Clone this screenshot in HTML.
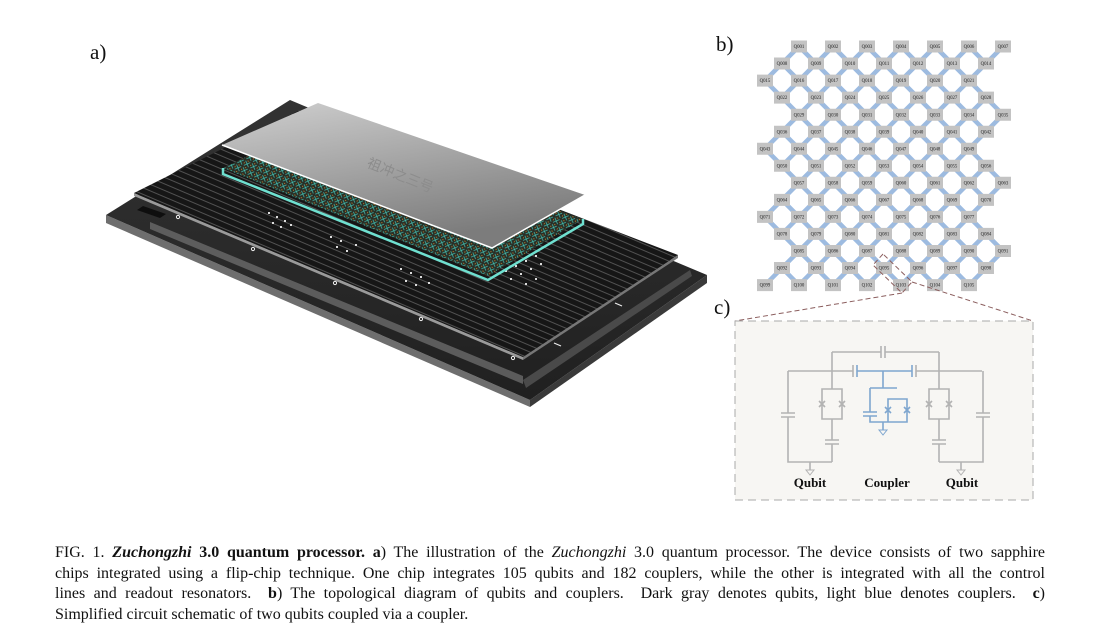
<!DOCTYPE html>
<html><head><meta charset="utf-8"><style>
html,body{margin:0;padding:0;background:#fff;}
body{width:1116px;height:642px;position:relative;overflow:hidden;font-family:"Liberation Serif",serif;}
.lbl{position:absolute;font-size:21px;color:#111;}
.cap{position:absolute;left:55px;width:990px;font-size:16px;line-height:20.5px;color:#111;}
.cap div{text-align:justify;text-align-last:justify;white-space:nowrap;}
.cap div.last{text-align-last:left;}
</style></head><body>
<svg width="1116" height="642" style="position:absolute;left:0;top:0" xmlns="http://www.w3.org/2000/svg">
<defs>
<pattern id="tr" width="6" height="6" patternUnits="userSpaceOnUse" patternTransform="rotate(23)">
<rect width="6" height="6" fill="#161616"/><line x1="0" y1="3" x2="6" y2="3" stroke="#9a9a9a" stroke-width="0.45"/>
</pattern>
<pattern id="tl" width="7" height="7" patternUnits="userSpaceOnUse" patternTransform="rotate(22)">
<rect width="7" height="7" fill="#2a2e26"/><path d="M1 1L6 6M6 1L1 6" stroke="#45c8b8" stroke-width="0.7"/><circle cx="3.5" cy="0.2" r="0.7" fill="#c98a2e"/><circle cx="0.2" cy="3.5" r="0.7" fill="#c98a2e"/>
</pattern>
<linearGradient id="gch" x1="0" y1="0" x2="0.4" y2="1"><stop offset="0" stop-color="#cfcfcf"/><stop offset="1" stop-color="#7c7c7c"/></linearGradient>
<linearGradient id="gbase" x1="0" y1="0" x2="0" y2="1"><stop offset="0" stop-color="#333"/><stop offset="1" stop-color="#202020"/></linearGradient>
</defs>
<!-- base plate -->
<polygon points="106,215 530,400 530,407 106,223" fill="#6e6e6e"/>
<polygon points="530,400 707,275 707,283 530,407" fill="#3a3a3a"/>
<polygon points="106,215 290,100 707,275 530,400" fill="url(#gbase)"/>
<polygon points="150,222 523,376 523,384 150,229" fill="#6a6a6a" opacity="0.8"/>
<polygon points="523,380 690,270 692,276 526,388" fill="#4a4a4a"/>
<polygon points="137,210 160,218 166,214 143,206" fill="#0e0e0e"/>
<!-- board -->
<polygon points="134,193 523,357 523,360 134,196" fill="#9a9a9a"/>
<polygon points="523,357 678,255 678,258 523,360" fill="#777"/>
<polygon points="134,193 300,110 678,255 523,357" fill="url(#tr)"/>
<g fill="none" stroke="#eee" stroke-width="1">
<circle cx="178" cy="217" r="1.6"/><circle cx="253" cy="249" r="1.6"/><circle cx="335" cy="283" r="1.6"/><circle cx="421" cy="319" r="1.6"/><circle cx="513" cy="358" r="1.6"/>
</g>
<g stroke="#eee" stroke-width="1.2"><line x1="615" y1="303" x2="622" y2="306"/><line x1="554" y1="343" x2="561" y2="346"/></g>
<g fill="#ddd">
<rect x="268" y="212" width="2" height="2"/><rect x="276" y="216" width="2" height="2"/><rect x="284" y="220" width="2" height="2"/><rect x="272" y="222" width="2" height="2"/><rect x="280" y="226" width="2" height="2"/><rect x="290" y="224" width="2" height="2"/>
<rect x="330" y="236" width="2" height="2"/><rect x="340" y="240" width="2" height="2"/><rect x="336" y="246" width="2" height="2"/><rect x="346" y="250" width="2" height="2"/><rect x="355" y="244" width="2" height="2"/>
<rect x="400" y="268" width="2" height="2"/><rect x="410" y="272" width="2" height="2"/><rect x="420" y="276" width="2" height="2"/><rect x="405" y="280" width="2" height="2"/><rect x="415" y="284" width="2" height="2"/><rect x="428" y="282" width="2" height="2"/>
<rect x="505" y="270" width="2" height="2"/><rect x="515" y="265" width="2" height="2"/><rect x="525" y="260" width="2" height="2"/><rect x="535" y="255" width="2" height="2"/><rect x="510" y="278" width="2" height="2"/><rect x="520" y="273" width="2" height="2"/><rect x="530" y="268" width="2" height="2"/><rect x="540" y="263" width="2" height="2"/><rect x="525" y="283" width="2" height="2"/><rect x="535" y="278" width="2" height="2"/>
</g>
<!-- teal chip -->
<polygon points="223,168 318,122 583,219 488,276" fill="url(#tl)"/>
<polyline points="223,168 223,174 488,280 583,224 583,219" fill="none" stroke="#6fe0d0" stroke-width="2.5"/>
<!-- gray chip -->
<polygon points="222,145 318,103 585,195 492,248" fill="url(#gch)"/>
<polyline points="222,145 492,248 585,195" fill="none" stroke="#fff" stroke-width="1.5"/>
<text x="400" y="180" font-family="Noto Sans CJK SC,sans-serif" font-size="14" fill="#8c8c8c" transform="rotate(22 400 176)" text-anchor="middle">祖冲之三号</text>
<!-- lattice edges -->
<g transform="translate(765,46.5) scale(17,17.04)">
<path fill="none" stroke="#9dbbe0" stroke-width="4.5" vector-effect="non-scaling-stroke" d="M12 0L13 1M10 0L14 4M8 0L13 5M6 0L14 8M4 0L13 9M2 0L14 12M1 1L13 13M0 2L12 14M1 5L10 14M0 6L8 14M1 9L6 14M0 10L4 14M1 13L2 14M2 0L0 2M4 0L1 3M6 0L0 6M8 0L1 7M10 0L0 10M12 0L1 11M14 0L0 14M13 3L2 14M14 4L4 14M13 7L6 14M14 8L8 14M13 11L10 14M14 12L12 14"/>
</g>
<g font-family="Liberation Serif,serif" font-size="4.8" fill="#222" text-anchor="middle">
<g transform="translate(799,46.5)"><line x1="-8" x2="212" stroke="#c3c3c3" stroke-width="12" stroke-dasharray="16 18"/><text y="1.6">Q001</text><text x="34" y="1.6">Q002</text><text x="68" y="1.6">Q003</text><text x="102" y="1.6">Q004</text><text x="136" y="1.6">Q005</text><text x="170" y="1.6">Q006</text><text x="204" y="1.6">Q007</text></g>
<g transform="translate(782,63.5)"><line x1="-8" x2="212" stroke="#c3c3c3" stroke-width="12" stroke-dasharray="16 18"/><text y="1.6">Q008</text><text x="34" y="1.6">Q009</text><text x="68" y="1.6">Q010</text><text x="102" y="1.6">Q011</text><text x="136" y="1.6">Q012</text><text x="170" y="1.6">Q013</text><text x="204" y="1.6">Q014</text></g>
<g transform="translate(765,80.6)"><line x1="-8" x2="212" stroke="#c3c3c3" stroke-width="12" stroke-dasharray="16 18"/><text y="1.6">Q015</text><text x="34" y="1.6">Q016</text><text x="68" y="1.6">Q017</text><text x="102" y="1.6">Q018</text><text x="136" y="1.6">Q019</text><text x="170" y="1.6">Q020</text><text x="204" y="1.6">Q021</text></g>
<g transform="translate(782,97.6)"><line x1="-8" x2="212" stroke="#c3c3c3" stroke-width="12" stroke-dasharray="16 18"/><text y="1.6">Q022</text><text x="34" y="1.6">Q023</text><text x="68" y="1.6">Q024</text><text x="102" y="1.6">Q025</text><text x="136" y="1.6">Q026</text><text x="170" y="1.6">Q027</text><text x="204" y="1.6">Q028</text></g>
<g transform="translate(799,114.7)"><line x1="-8" x2="212" stroke="#c3c3c3" stroke-width="12" stroke-dasharray="16 18"/><text y="1.6">Q029</text><text x="34" y="1.6">Q030</text><text x="68" y="1.6">Q031</text><text x="102" y="1.6">Q032</text><text x="136" y="1.6">Q033</text><text x="170" y="1.6">Q034</text><text x="204" y="1.6">Q035</text></g>
<g transform="translate(782,131.7)"><line x1="-8" x2="212" stroke="#c3c3c3" stroke-width="12" stroke-dasharray="16 18"/><text y="1.6">Q036</text><text x="34" y="1.6">Q037</text><text x="68" y="1.6">Q038</text><text x="102" y="1.6">Q039</text><text x="136" y="1.6">Q040</text><text x="170" y="1.6">Q041</text><text x="204" y="1.6">Q042</text></g>
<g transform="translate(765,148.7)"><line x1="-8" x2="212" stroke="#c3c3c3" stroke-width="12" stroke-dasharray="16 18"/><text y="1.6">Q043</text><text x="34" y="1.6">Q044</text><text x="68" y="1.6">Q045</text><text x="102" y="1.6">Q046</text><text x="136" y="1.6">Q047</text><text x="170" y="1.6">Q048</text><text x="204" y="1.6">Q049</text></g>
<g transform="translate(782,165.8)"><line x1="-8" x2="212" stroke="#c3c3c3" stroke-width="12" stroke-dasharray="16 18"/><text y="1.6">Q050</text><text x="34" y="1.6">Q051</text><text x="68" y="1.6">Q052</text><text x="102" y="1.6">Q053</text><text x="136" y="1.6">Q054</text><text x="170" y="1.6">Q055</text><text x="204" y="1.6">Q056</text></g>
<g transform="translate(799,182.8)"><line x1="-8" x2="212" stroke="#c3c3c3" stroke-width="12" stroke-dasharray="16 18"/><text y="1.6">Q057</text><text x="34" y="1.6">Q058</text><text x="68" y="1.6">Q059</text><text x="102" y="1.6">Q060</text><text x="136" y="1.6">Q061</text><text x="170" y="1.6">Q062</text><text x="204" y="1.6">Q063</text></g>
<g transform="translate(782,199.9)"><line x1="-8" x2="212" stroke="#c3c3c3" stroke-width="12" stroke-dasharray="16 18"/><text y="1.6">Q064</text><text x="34" y="1.6">Q065</text><text x="68" y="1.6">Q066</text><text x="102" y="1.6">Q067</text><text x="136" y="1.6">Q068</text><text x="170" y="1.6">Q069</text><text x="204" y="1.6">Q070</text></g>
<g transform="translate(765,216.9)"><line x1="-8" x2="212" stroke="#c3c3c3" stroke-width="12" stroke-dasharray="16 18"/><text y="1.6">Q071</text><text x="34" y="1.6">Q072</text><text x="68" y="1.6">Q073</text><text x="102" y="1.6">Q074</text><text x="136" y="1.6">Q075</text><text x="170" y="1.6">Q076</text><text x="204" y="1.6">Q077</text></g>
<g transform="translate(782,233.9)"><line x1="-8" x2="212" stroke="#c3c3c3" stroke-width="12" stroke-dasharray="16 18"/><text y="1.6">Q078</text><text x="34" y="1.6">Q079</text><text x="68" y="1.6">Q080</text><text x="102" y="1.6">Q081</text><text x="136" y="1.6">Q082</text><text x="170" y="1.6">Q083</text><text x="204" y="1.6">Q084</text></g>
<g transform="translate(799,251)"><line x1="-8" x2="212" stroke="#c3c3c3" stroke-width="12" stroke-dasharray="16 18"/><text y="1.6">Q085</text><text x="34" y="1.6">Q086</text><text x="68" y="1.6">Q087</text><text x="102" y="1.6">Q088</text><text x="136" y="1.6">Q089</text><text x="170" y="1.6">Q090</text><text x="204" y="1.6">Q091</text></g>
<g transform="translate(782,268)"><line x1="-8" x2="212" stroke="#c3c3c3" stroke-width="12" stroke-dasharray="16 18"/><text y="1.6">Q092</text><text x="34" y="1.6">Q093</text><text x="68" y="1.6">Q094</text><text x="102" y="1.6">Q095</text><text x="136" y="1.6">Q096</text><text x="170" y="1.6">Q097</text><text x="204" y="1.6">Q098</text></g>
<g transform="translate(765,285.1)"><line x1="-8" x2="212" stroke="#c3c3c3" stroke-width="12" stroke-dasharray="16 18"/><text y="1.6">Q099</text><text x="34" y="1.6">Q100</text><text x="68" y="1.6">Q101</text><text x="102" y="1.6">Q102</text><text x="136" y="1.6">Q103</text><text x="170" y="1.6">Q104</text><text x="204" y="1.6">Q105</text></g>
</g>
<!-- zoom box & lines -->
<g fill="none" stroke="#8b5e5e" stroke-width="1" stroke-dasharray="5 3">
<polygon points="883,254 873,265 902,293 912,282"/>
<line x1="902" y1="293" x2="735" y2="321"/>
<line x1="912" y1="282" x2="1033" y2="321"/>
</g>
<!-- c box -->
<rect x="735" y="321" width="298" height="179" fill="#f7f6f3" stroke="#aaa" stroke-width="1" stroke-dasharray="8 5"/>
<g fill="none" stroke="#b3b3b3" stroke-width="1.6">
<path d="M832 352H881M885 352H939M881 346V358M885 346V358"/>
<path d="M788 371H853M853 365V377M916 365V377M916 371H982"/>
<path d="M788 371V413M781 413H795M781 417H795M788 417V462H832"/>
<path d="M832 352V389M822 389H842V419H822ZM832 419V440M825 440H839M825 444H839M832 444V462"/>
<path d="M819 401L825 407M825 401L819 407M839 401L845 407M845 401L839 407"/>
<path d="M810 462V470"/>
<path d="M983 371V413M976 413H990M976 417H990M983 417V462H939"/>
<path d="M939 352V389M929 389H949V419H929ZM939 419V440M932 440H946M932 444H946M939 444V462"/>
<path d="M926 401L932 407M932 401L926 407M946 401L952 407M952 401L946 407"/>
<path d="M961 462V470"/>
</g>
<g fill="none" stroke="#b3b3b3" stroke-width="1"><path d="M806 470H814L810 475Z"/><path d="M957 470H965L961 475Z"/></g>
<g fill="none" stroke="#7fa6cf" stroke-width="1.6">
<path d="M857 365V377M912 365V377M857 371H912M883 371V388M870 388H897M870 388V412M870 416V422H907V399H888V422"/>
<path d="M863 412H877M863 416H877"/>
<path d="M885 407L891 413M891 407L885 413M904 407L910 413M910 407L904 413"/>
<path d="M883 422V430"/>
</g>
<path d="M879 430H887L883 435Z" fill="none" stroke="#7fa6cf" stroke-width="1"/>
<g font-family="Liberation Serif,serif" font-weight="bold" font-size="13" fill="#111" text-anchor="middle">
<text x="810" y="487">Qubit</text><text x="887" y="487">Coupler</text><text x="962" y="487">Qubit</text>
</g>
</svg>
<div class="lbl" style="left:90px;top:40px">a)</div>
<div class="lbl" style="left:716px;top:32px">b)</div>
<div class="lbl" style="left:714px;top:295px">c)</div>
<div class="cap" style="top:543px">
<div>FIG. 1. <b><i>Zuchongzhi</i> 3.0 quantum processor.</b> <b>a</b>) The illustration of the <i>Zuchongzhi</i> 3.0 quantum processor. The device consists of two sapphire</div>
<div>chips integrated using a flip-chip technique. One chip integrates 105 qubits and 182 couplers, while the other is integrated with all the control</div>
<div>lines and readout resonators. &nbsp;<b>b</b>) The topological diagram of qubits and couplers. &nbsp;Dark gray denotes qubits, light blue denotes couplers. &nbsp;<b>c</b>)</div>
<div class="last">Simplified circuit schematic of two qubits coupled via a coupler.</div>
</div>
</body></html>
